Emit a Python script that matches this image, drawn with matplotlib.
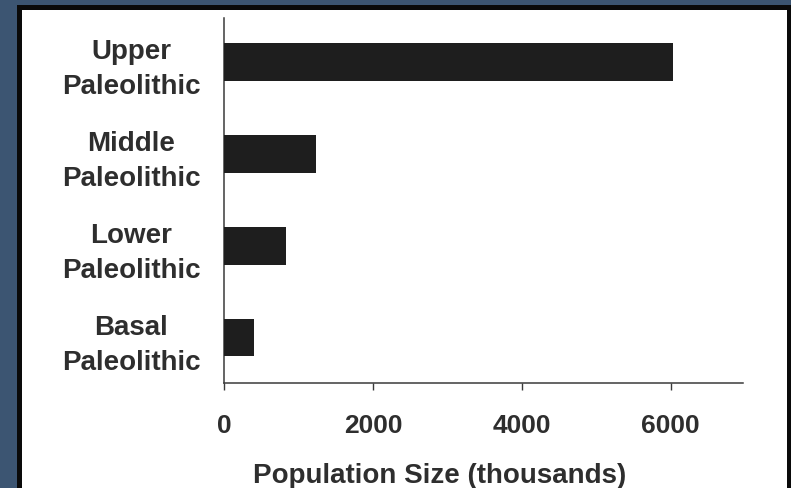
import matplotlib
matplotlib.use("Agg")
import matplotlib.pyplot as plt
from matplotlib.patches import Rectangle

# Data
categories = ["Basal\nPaleolithic", "Lower\nPaleolithic", "Middle\nPaleolithic", "Upper\nPaleolithic"]
population = [405, 832, 1235, 6035]
xticks = [0, 2000, 4000, 6000]
xtick_labels = ["0", "2000", "4000", "6000"]
xlabel = "Population Size (thousands)"

W, H = 791, 488
fig = plt.figure(figsize=(W / 100, H / 100), dpi=100)
fig.patch.set_facecolor("#3c5572")

# background frame drawn in an axes underneath
bg = fig.add_axes([0, 0, 1, 1], zorder=-5)
bg.set_xlim(0, W)
bg.set_ylim(H, 0)
bg.axis("off")
bg.add_patch(Rectangle((17, 5), W - 17, H - 5, facecolor="#0a0a0a", edgecolor="none"))
bg.add_patch(Rectangle((22, 10), 787 - 22, H - 10, facecolor="white", edgecolor="none"))

left, right, top, bottom = 224, 743, 18, 382.5
ax = fig.add_axes([left / W, (H - bottom) / H, (right - left) / W, (bottom - top) / H], zorder=2)
ax.set_facecolor("none")

ypos = list(range(len(categories)))
ax.barh(ypos, population, height=0.41, color="#1e1e1e", zorder=3)

ax.set_xlim(0, 6970)
ax.set_ylim(-0.49, 3.48)

for s in ["top", "right"]:
    ax.spines[s].set_visible(False)
for s in ["left", "bottom"]:
    ax.spines[s].set_color("#3a3a3a")
    ax.spines[s].set_linewidth(1.1)

text_color = "#2e2e2e"
ax.set_xticks(xticks)
ax.set_xticklabels(xtick_labels, fontsize=19, fontweight="bold",
                   family="Liberation Sans", color=text_color)
ax.tick_params(axis="x", direction="out", length=5, width=1.0,
               color="#3a3a3a", pad=18)

ax.set_yticks(ypos)
ax.set_yticklabels(categories, fontsize=20, fontweight="bold",
                   family="Liberation Sans", color=text_color,
                   ha="center", multialignment="center", linespacing=1.45)
ax.tick_params(axis="y", length=0, pad=67)

fig.text(440 / W, (H - 483) / H, xlabel, ha="center", va="baseline",
         fontsize=20, fontweight="bold", family="Liberation Sans",
         color=text_color, zorder=3)

fig.savefig("out.png", dpi=100, facecolor=fig.get_facecolor())
